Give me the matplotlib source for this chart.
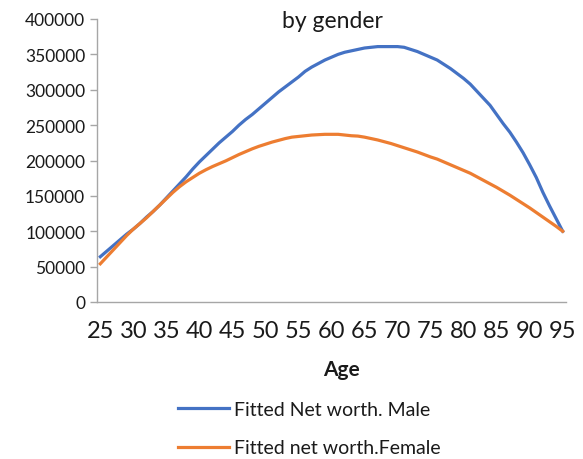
import numpy as np
import matplotlib
matplotlib.use('Agg')
import matplotlib.pyplot as plt

plt.rcParams['font.family'] = ['Lato', 'DejaVu Sans']

# ages on the category axis
ages = list(range(25, 96))

# fitted net worth, one value per age
male = [64000, 72000, 80000, 88000, 96000, 103000, 111000, 120000, 128000, 137000,
        147000, 157000, 167000, 177000, 188000, 198000, 207000, 216000, 225000, 233000,
        241000, 250000, 258000, 265000, 273000, 281000, 289000, 297000, 304000, 311000,
        318000, 326000, 332000, 337000, 342000, 346000, 350000, 353000, 355000, 357000,
        359000, 360000, 361000, 361000, 361000, 361000, 360000, 357000, 354000, 350000,
        346000, 342000, 336000, 330000, 323000, 316000, 308000, 298000, 288000, 278000,
        265000, 252000, 240000, 226000, 211000, 194000, 176000, 155000, 136000, 118000,
        100000]

female = [54000, 64000, 74000, 84000, 94000, 103000, 111000, 119000, 128000, 137000,
          146000, 155000, 163000, 170000, 176000, 182000, 187000, 191500, 195500, 199500,
          204000, 208500, 212500, 216500, 220000, 223000, 226000, 228500, 231000, 233000,
          234000, 235000, 236000, 236500, 237000, 237000, 237000, 236000, 235000, 234500,
          233000, 231000, 229000, 226500, 224000, 221000, 218000, 215000, 212000, 208500,
          205000, 202000, 198000, 194000, 190000, 186000, 182000, 177000, 172000, 167000,
          162000, 156500, 151000, 145000, 139000, 133000, 126500, 120000, 113500, 107000,
          100000]

yticks = list(range(0, 400001, 50000))
xticks = list(range(25, 96, 5))

fig = plt.figure(figsize=(5.83, 4.6), dpi=100)
ax = fig.add_axes([97/583, 1 - 303/460, (566 - 97)/583, (303 - 20)/460])

l1, = ax.plot(ages, male, color='#4472C4', lw=2.3, label='Fitted Net worth. Male')
l2, = ax.plot(ages, female, color='#ED7D31', lw=2.3, label='Fitted net worth.Female')

ax.set_xlim(24.5, 95.5)
ax.set_ylim(0, 400000)
ax.set_yticks(yticks)
ax.set_yticklabels([str(v) for v in yticks])
ax.set_xticks(xticks)
ax.set_xticklabels([str(v) for v in xticks])

for s in ['top', 'right']:
    ax.spines[s].set_visible(False)
for s in ['left', 'bottom']:
    ax.spines[s].set_color('#a6a6a6')
    ax.spines[s].set_linewidth(1.0)

ax.tick_params(axis='y', length=5, width=1, color='#a6a6a6', pad=3.5,
               labelsize=12.5, labelcolor='#1a1a1a')
ax.tick_params(axis='x', length=0, pad=13, labelsize=17, labelcolor='#1a1a1a')

fig.text(332/583, 1 - 28/460, 'by gender', ha='center', va='baseline',
         fontsize=16.5, color='#1a1a1a')
fig.text(341/583, 1 - 370/460, 'Age', ha='center', va='center',
         fontsize=15, fontweight='bold', color='#1a1a1a')

fig.legend(handles=[l1, l2], loc='upper left', bbox_to_anchor=(178/583, 1 - 402/460),
           frameon=False, fontsize=14, handlelength=2.6, handletextpad=0.3,
           labelspacing=1.1, borderpad=0, borderaxespad=0, labelcolor='#1a1a1a')

plt.savefig('out.png', dpi=100)
